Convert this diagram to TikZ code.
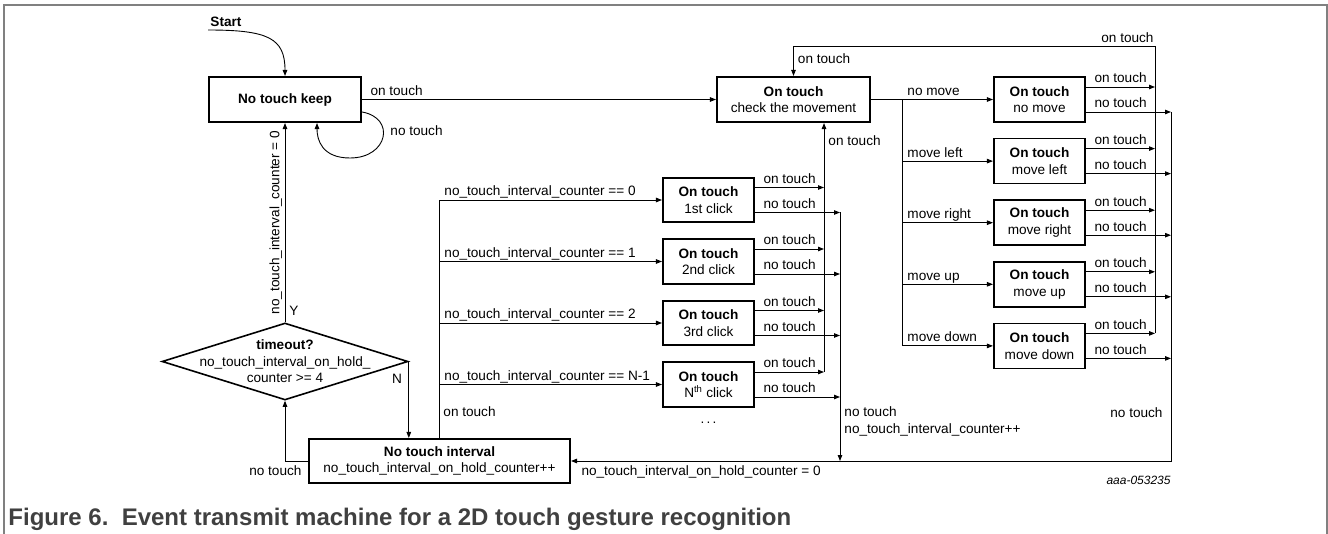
\documentclass[tikz,border=0pt]{standalone}
\usepackage{fontspec}
\setmainfont{Liberation Sans}
\usepackage{tikz}
\usetikzlibrary{arrows.meta}
\usetikzlibrary{shapes.geometric}
\usetikzlibrary{positioning}

\newcommand\labsize{\fontsize{13.6}{16.5}\selectfont}
\definecolor{framegray}{RGB}{128,128,128}
\definecolor{capgray}{RGB}{64,64,64}

\begin{document}
\begin{tikzpicture}[
    x=1pt, y=1pt,
    font=\labsize,
    line width=0.9pt,
    state/.style={draw, line width=1.6pt, inner sep=0pt, align=center},
    smallstate/.style={state, minimum width=91.5pt, minimum height=44.5pt},
    lbl/.style={inner sep=1pt},
    outlbl/.style={lbl, anchor=base west, xshift=7pt, yshift=4pt},
    buslbl/.style={lbl, anchor=base west, xshift=4pt, yshift=4pt},
    >={Triangle[length=6pt, width=4.5pt]}
]

% --- Frame ---
\useasboundingbox (0,0) rectangle (1328,-534);
\draw[framegray, line width=1.5pt] (4,-534) -- (4,-5) -- (1327,-5) -- (1327,-534);

% --- Idle states ---
\node[lbl, anchor=west] (start) at (209,-22) {\textbf{Start}};
\node[state, minimum width=152.5pt, minimum height=45.5pt] (keep) at (285,-99.5) {\textbf{No touch keep}};
\node[diamond, draw, line width=1.6pt, inner sep=0pt, minimum width=246pt, minimum height=77pt] (dia) at (285,-361.5) {};
\node[align=center, inner sep=0pt] (diatxt) at (dia.center) {\textbf{timeout?}\\no\_touch\_interval\_on\_hold\_\\counter >= 4};
\node[state, minimum width=261.5pt, minimum height=44.5pt] (nti) at (439.5,-461) {\textbf{No touch interval}\\no\_touch\_interval\_on\_hold\_counter++};

% --- Check state ---
\node[state, minimum width=153.5pt, minimum height=45.5pt] (check) at (793.5,-99.5) {\textbf{On touch}\\check the movement};

% --- Click states ---
\foreach \i/\txt in {1/1st click, 2/2nd click, 3/3rd click, 4/N\textsuperscript{th} click}
    \node[smallstate] (click\i) at (708.5,{-200 - (\i-1)*61.5}) {\textbf{On touch}\\\txt};
\node[anchor=base] (dots) at (708.5,-424) {.\,.\,.};

% --- Move states ---
\foreach \i/\txt in {1/no move, 2/move left, 3/move right, 4/move up, 5/move down}
    \node[smallstate, minimum height=45pt] (mv\i) at (1039.5,{-99.5 - (\i-1)*61.6}) {\textbf{On touch}\\\txt};

% --- Bus points ---
\coordinate (s0) at (208,-30);
\coordinate (cbus) at (439,-200);
\coordinate (otl) at (824,-372);
\coordinate (ntl) at (840,-461);
\coordinate (mbus) at (902,-99.5);
\coordinate (otr) at (1155,-46);
\coordinate (ntr) at (1171,-461);

% --- Left side connectors ---
\draw[->] (s0) .. controls (268,-30) and (285,-38) .. (keep.north);
\draw[->] (keep.east) -- (check.west) node[pos=0, outlbl] {on touch};
\draw[->] ([yshift=-12.5pt]keep.east) .. controls (396,-118) and (388,-158) .. (350,-158) .. controls (322,-158) and (317,-140) .. ([xshift=32pt]keep.south);
\node[lbl, anchor=west] (looplbl) at (389,-131) {no touch};
\draw[->] (dia.north) -- (keep.south) node[midway, lbl, rotate=90, anchor=south, inner sep=2.5pt] {no\_touch\_interval\_counter = 0};
\node[lbl] (ylbl) at (294,-311) {Y};
\node[lbl] (nlbl) at (397,-379) {N};
\draw[->] (dia.east) -- (dia.east |- nti.north);
\draw[->] (nti.west) -| (dia.south) node[pos=0, lbl, anchor=north east, xshift=-5pt, yshift=-3pt] {no touch};

% --- Into the click states ---
\draw (nti.north -| cbus) -- (cbus) node[pos=0.11, lbl, right=3pt] {on touch};
\foreach \i/\cnt in {1/0, 2/1, 3/2, 4/N-1}
{
    \draw[->] (cbus |- click\i.west) -- (click\i.west) node[pos=0, buslbl] {no\_touch\_interval\_counter == \cnt};
}

% --- Out of the click states ---
\foreach \i in {1,...,4}
{
    \draw[->] ([yshift=12.5pt]click\i.east) -- ([yshift=12.5pt]click\i.east -| otl) node[pos=0, outlbl] {on touch};
    \draw[->] ([yshift=-12.5pt]click\i.east) -- ([yshift=-12.5pt]click\i.east -| ntl) node[pos=0, outlbl] {no touch};
}
\draw[->] (otl) -- (otl |- check.south) node[pos=0.93, lbl, right=3pt] {on touch};
\draw[->] ([yshift=-12.5pt]click1.east -| ntl) -- (ntl) node[pos=0.84, lbl, right=3pt, align=left] {no touch\\no\_touch\_interval\_counter++};

% --- Into the move states ---
\draw (check.east) -- (mbus) -- (mbus |- mv5.west);
\foreach \i/\txt in {1/no move, 2/move left, 3/move right, 4/move up, 5/move down}
{
    \draw[->] (mbus |- mv\i.west) -- (mv\i.west) node[pos=0, buslbl] {\txt};
}

% --- Out of the move states ---
\foreach \i in {1,...,5}
{
    \draw[->] ([yshift=12.5pt]mv\i.east) -- ([yshift=12.5pt]mv\i.east -| otr) node[pos=0, outlbl] {on touch};
    \draw[->] ([yshift=-12.5pt]mv\i.east) -- ([yshift=-12.5pt]mv\i.east -| ntr) node[pos=0, outlbl] {no touch};
}
\draw[->] ([yshift=12.5pt]mv5.east -| otr) -- (otr) node[pos=1, lbl, anchor=south east, yshift=2pt] {on touch}
    -- (otr -| check.north) -- (check.north) node[pos=0.41, lbl, right=3pt] {on touch};
\draw[->] ([yshift=-12.5pt]mv1.east -| ntr) -- (ntr) node[pos=0.862, lbl, left=7pt] {no touch}
    -- (nti.east) node[pos=1, lbl, anchor=north west, xshift=9pt, yshift=-3pt] {no\_touch\_interval\_on\_hold\_counter = 0};

% --- Figure tag and caption ---
\node[anchor=east, inner sep=0pt, font=\fontsize{12}{14}\selectfont\itshape] (tag) at (1171,-480) {aaa-053235};
\node[anchor=west, inner sep=0pt, text=capgray, font=\fontsize{24}{28}\selectfont\bfseries] (caption) at (8,-519) {Figure 6.\ \ Event transmit machine for a 2D touch gesture recognition};

\end{tikzpicture}
\end{document}
